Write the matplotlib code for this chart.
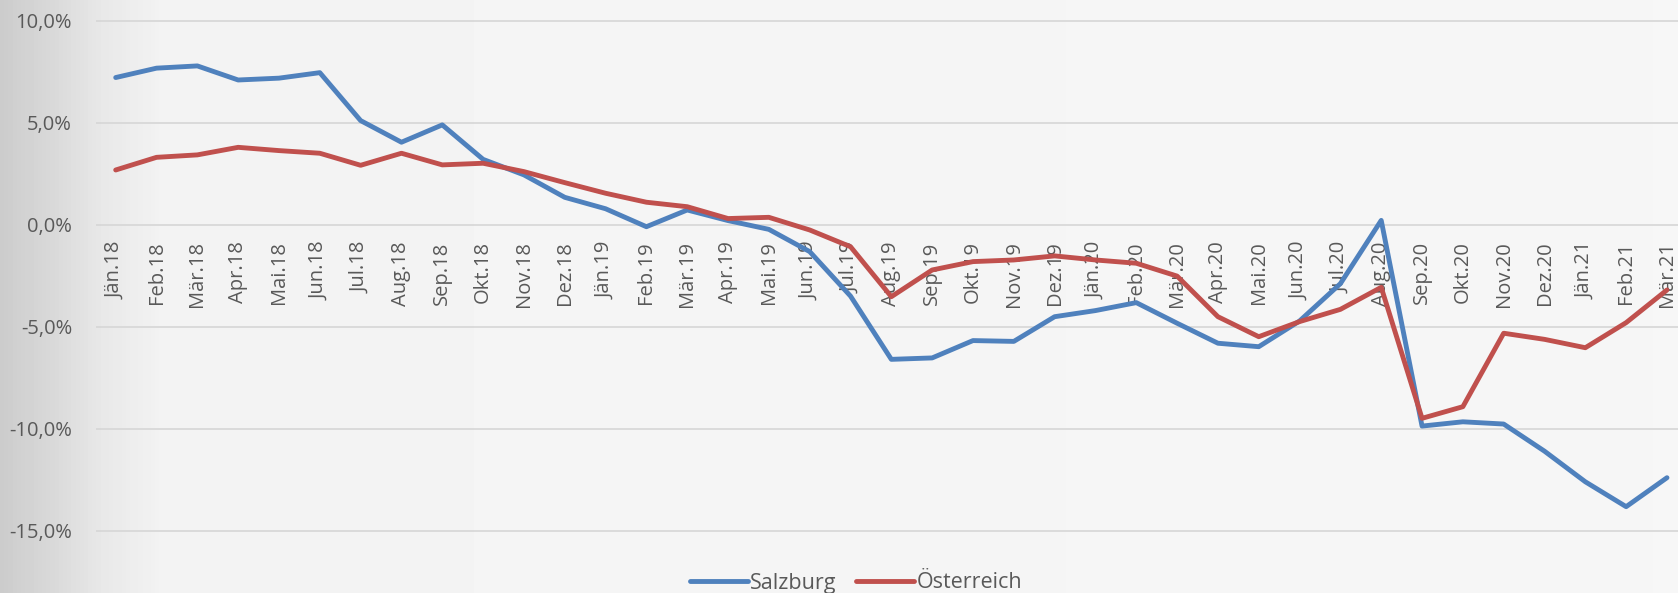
import matplotlib
matplotlib.use("Agg")
import matplotlib.pyplot as plt
import numpy as np

plt.rcParams['font.family'] = ['Open Sans', 'DejaVu Sans']

# month labels
months = ["Jän.18", "Feb.18", "Mär.18", "Apr.18", "Mai.18", "Jun.18", "Jul.18", "Aug.18",
          "Sep.18", "Okt.18", "Nov.18", "Dez.18",
          "Jän.19", "Feb.19", "Mär.19", "Apr.19", "Mai.19", "Jun.19", "Jul.19", "Aug.19",
          "Sep.19", "Okt.19", "Nov.19", "Dez.19",
          "Jän.20", "Feb.20", "Mär.20", "Apr.20", "Mai.20", "Jun.20", "Jul.20", "Aug.20",
          "Sep.20", "Okt.20", "Nov.20", "Dez.20",
          "Jän.21", "Feb.21", "Mär.21"]

# change vs previous year, in %
salzburg = [7.21, 7.67, 7.78, 7.09, 7.18, 7.45, 5.10, 4.04, 4.89, 3.20, 2.44, 1.34,
            0.78, -0.10, 0.72, 0.20, -0.23, -1.32, -3.50, -6.60, -6.53, -5.68, -5.72, -4.51,
            -4.21, -3.82, -4.83, -5.81, -5.98, -4.72, -2.89, 0.21, -9.87, -9.66, -9.77, -11.1,
            -12.6, -13.82, -12.4]
oesterreich = [2.68, 3.30, 3.42, 3.79, 3.63, 3.50, 2.91, 3.50, 2.93, 3.01, 2.60, 2.06,
               1.54, 1.10, 0.88, 0.30, 0.36, -0.26, -1.08, -3.53, -2.22, -1.81, -1.73, -1.53,
               -1.73, -1.89, -2.52, -4.51, -5.49, -4.75, -4.15, -3.07, -9.49, -8.92, -5.32, -5.62,
               -6.03, -4.80, -3.20]
yticks = [-15, -10, -5, 0, 5, 10]

W, H = 1678, 593
fig = plt.figure(figsize=(W / 100, H / 100), dpi=100)
fig.patch.set_facecolor('#f4f4f4')

# light grungy paper look: darker on the left edge
bg = fig.add_axes([0, 0, 1, 1], zorder=-10)
xs = np.linspace(0, 1, 400)
shade = np.interp(xs, [0, 0.03, 0.06, 0.1, 1], [0.80, 0.85, 0.91, 0.955, 0.965])
bg.imshow(np.tile(shade, (2, 1)), cmap='gray', vmin=0, vmax=1, aspect='auto',
          extent=[0, 1, 0, 1])
bg.axis('off')

left = 95.7 / W
ax = fig.add_axes([left, 0, 1 - left, 1])
ax.patch.set_alpha(0)

x = np.arange(len(months))
l1, = ax.plot(x, salzburg, color='#4f81bd', lw=3.5, solid_joinstyle='round',
              solid_capstyle='round', zorder=4, label='Salzburg')
l2, = ax.plot(x, oesterreich, color='#c0504d', lw=3.5, solid_joinstyle='round',
              solid_capstyle='round', zorder=5, label='Österreich')

ax.set_xlim(-0.49, 38.27)
ax.set_ylim(-18.05, 11.01)

for v in yticks:
    ax.axhline(v, color='#d6d6d6', lw=1.2, zorder=1)

ax.set_yticks(yticks)
ax.set_yticklabels([f"{v:.1f}%".replace('.', ',') for v in yticks])
ax.tick_params(axis='y', length=0, pad=17, labelsize=14.5, labelcolor='#595959')
ax.set_xticks([])
for s in ax.spines.values():
    s.set_visible(False)

for i, m in enumerate(months):
    ax.annotate(m, (i, 0), xytext=(0, -12), textcoords='offset points', rotation=90,
                ha='center', va='top', fontsize=14.5, color='#595959', zorder=2)

fig.legend(handles=[l1, l2], loc='center', bbox_to_anchor=(856 / W, 1 - 583 / H),
           ncol=2, frameon=False, fontsize=15.5, handlelength=2.7, handletextpad=0.1,
           columnspacing=0.9, labelcolor='#595959')

fig.savefig('out.png', dpi=100, facecolor=fig.get_facecolor())
